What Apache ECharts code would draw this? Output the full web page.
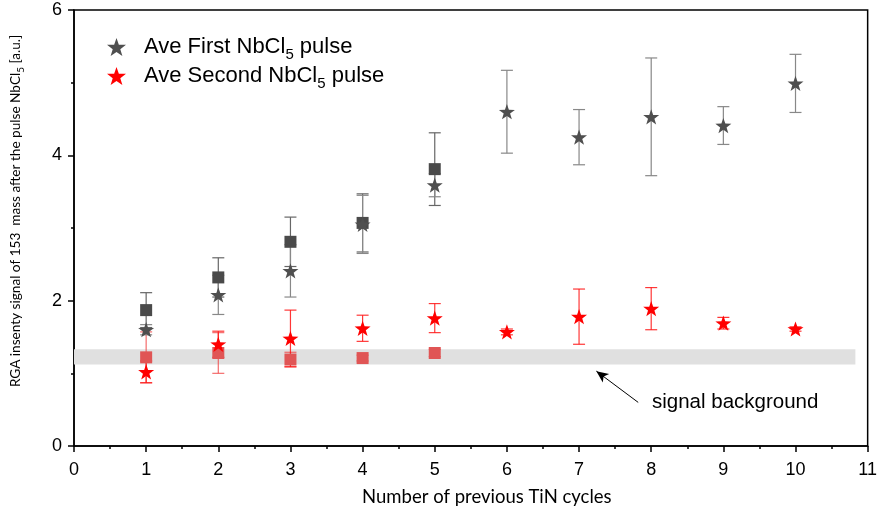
<!DOCTYPE html>
<html><head><meta charset="utf-8">
<script src="https://cdn.jsdelivr.net/npm/echarts@6/dist/echarts.min.js"></script>
<style>html,body{margin:0;padding:0;background:#fff}#c{width:880px;height:518px}</style>
</head><body><div id="c"></div>
<script>
const cycles = [1, 2, 3, 4, 5, 6, 7, 8, 9, 10];
const squareCycles = [1, 2, 3, 4, 5];
const firstStar = [1.60, 2.08, 2.41, 3.05, 3.59, 4.60, 4.25, 4.53, 4.41, 4.99];
const firstStarErr = [0.07, 0.27, 0.36, 0.40, 0.16, 0.57, 0.38, 0.81, 0.26, 0.40];
const firstSquare = [1.87, 2.32, 2.81, 3.07, 3.81];
const firstSquareErr = [0.24, 0.27, 0.34, 0.40, 0.50];
const secondStar = [1.02, 1.40, 1.48, 1.62, 1.76, 1.57, 1.78, 1.89, 1.69, 1.61];
const secondStarErr = [0.15, 0.18, 0.39, 0.18, 0.20, 0.04, 0.38, 0.29, 0.08, 0.03];
const secondSquare = [1.22, 1.28, 1.19, 1.21, 1.28];
const secondSquareErr = [0.35, 0.28, 0.10, 0.04, 0.05];
const background = [1.12, 1.33];
const xTicks = [0, 1, 2, 3, 4, 5, 6, 7, 8, 9, 10, 11];
const yTicks = [0, 2, 4, 6];

const STAR = 'path://M0,-10L2.35,-3.24L9.51,-3.09L3.8,1.24L5.88,8.09L0,4L-5.88,8.09L-3.8,1.24L-9.51,-3.09L-2.35,-3.24Z';
const GRAY = '#4f4f4f', RED = '#ff0000';

function pts(xs, ys) { return xs.map((x, i) => [x, ys[i]]); }
function errData(xs, ys, es) { return xs.map((x, i) => [x, ys[i] - es[i], ys[i] + es[i]]); }
function errSeries(data, color, z) {
  return {
    type: 'custom', data: data, z: z, silent: true,
    renderItem: function (params, api) {
      const x = api.value(0);
      const lo = api.coord([x, api.value(1)]);
      const hi = api.coord([x, api.value(2)]);
      const w = 6;
      const st = { stroke: color, lineWidth: 1.2 };
      return { type: 'group', children: [
        { type: 'line', shape: { x1: lo[0], y1: lo[1], x2: hi[0], y2: hi[1] }, style: st },
        { type: 'line', shape: { x1: lo[0] - w, y1: lo[1], x2: lo[0] + w, y2: lo[1] }, style: st },
        { type: 'line', shape: { x1: hi[0] - w, y1: hi[1], x2: hi[0] + w, y2: hi[1] }, style: st }
      ]};
    }
  };
}

const chart = echarts.init(document.getElementById('c'), null, { renderer: 'canvas' });
chart.setOption({
  animation: false,
  grid: { left: 74, right: 10, top: 10, bottom: 72, show: true, borderColor: '#000', borderWidth: 1.5 },
  legend: {
    orient: 'vertical', left: 102, top: 31, itemGap: 3, itemWidth: 19, itemHeight: 19,
    data: ['first', 'second'],
    formatter: function (n) {
      return n === 'first' ? 'Ave First NbCl{sub|5} pulse' : 'Ave Second NbCl{sub|5} pulse';
    },
    textStyle: { fontSize: 22, color: '#000', fontFamily: 'Liberation Sans', padding: [0, 0, 0, 13],
      rich: { sub: { fontSize: 15, verticalAlign: 'bottom', padding: [15, 0, 0, 0], fontFamily: 'Liberation Sans', color: '#000' } } }
  },
  xAxis: {
    type: 'value', min: 0, max: 11, interval: 1,
    name: 'Number of previous TiN cycles', nameLocation: 'middle', nameGap: 42,
    nameTextStyle: { fontSize: 18.5, fontFamily: 'Lato', color: '#000', padding: [0, 0, 0, 32] },
    axisLine: { show: true, onZero: false, lineStyle: { color: '#000', width: 1.5 } },
    axisTick: { show: true, inside: false, length: 6, lineStyle: { color: '#000', width: 1.5 } },
    minorTick: { show: true, splitNumber: 2, length: 3, lineStyle: { color: '#000', width: 1.5 } },
    axisLabel: { fontSize: 18, color: '#000', fontFamily: 'Liberation Sans', margin: 15,
      formatter: function (v) { return xTicks.indexOf(v) >= 0 ? String(v) : ''; } },
    splitLine: { show: false }
  },
  yAxis: {
    type: 'value', min: 0, max: 6, interval: 2,
    name: 'RGA insenty signal of 153  mass after the pulse NbCl{s|5} [a.u.]',
    nameLocation: 'middle', nameGap: 48,
    nameTextStyle: { fontSize: 13.6, fontFamily: 'Lato', color: '#000', padding: [0, 0, 0, 34],
      rich: { s: { fontSize: 10, fontFamily: 'Lato', verticalAlign: 'bottom', padding: [10, 0, 0, 0], color: '#000' } } },
    axisLine: { show: true, onZero: false, lineStyle: { color: '#000', width: 1.5 } },
    axisTick: { show: true, inside: false, length: 6, lineStyle: { color: '#000', width: 1.5 } },
    minorTick: { show: true, splitNumber: 2, length: 3, lineStyle: { color: '#000', width: 1.5 } },
    axisLabel: { fontSize: 18, color: '#000', fontFamily: 'Liberation Sans', margin: 12,
      formatter: function (v) { return yTicks.indexOf(v) >= 0 ? String(v) : ''; } },
    splitLine: { show: false }
  },
  series: [
    {
      type: 'scatter', name: 'band', data: [], silent: true,
      markArea: { silent: true, itemStyle: { color: '#e0e0e0', opacity: 1 },
        data: [[{ xAxis: 0, yAxis: background[0] }, { xAxis: 10.83, yAxis: background[1] }]] },
      markLine: { silent: true, symbol: ['none', 'arrow'], symbolSize: [8, 12],
        lineStyle: { color: '#000', width: 1, type: 'solid' }, label: { show: false },
        data: [[{ coord: [7.82, 0.60] }, { coord: [7.24, 1.03] }]] }
    },
    errSeries(errData(squareCycles, secondSquare, secondSquareErr), 'rgba(240,60,60,0.75)', 2),
    errSeries(errData(cycles, secondStar, secondStarErr), 'rgba(255,20,20,0.85)', 2),
    errSeries(errData(squareCycles, firstSquare, firstSquareErr), '#666666', 2),
    errSeries(errData(cycles, firstStar, firstStarErr), '#888888', 2),
    { type: 'scatter', name: 'sq2', data: pts(squareCycles, secondSquare), symbol: 'rect', symbolSize: 12,
      itemStyle: { color: '#e05555', opacity: 1 }, z: 3 },
    { type: 'scatter', name: 'sq1', data: pts(squareCycles, firstSquare), symbol: 'rect', symbolSize: 12,
      itemStyle: { color: '#4a4a4a', opacity: 1 }, z: 3 },
    { type: 'scatter', name: 'second', data: pts(cycles, secondStar), symbol: STAR, symbolSize: 16,
      symbolKeepAspect: true, itemStyle: { color: RED, opacity: 1 }, z: 4 },
    { type: 'scatter', name: 'first', data: pts(cycles, firstStar), symbol: STAR, symbolSize: 16,
      symbolKeepAspect: true, itemStyle: { color: GRAY, opacity: 1 }, z: 4 }
  ],
  graphic: [
    { type: 'text', left: 652, top: 392, style: { text: 'signal background', fontSize: 20.5, fontFamily: 'Liberation Sans', fill: '#000' } }
  ]
});
</script></body></html>
